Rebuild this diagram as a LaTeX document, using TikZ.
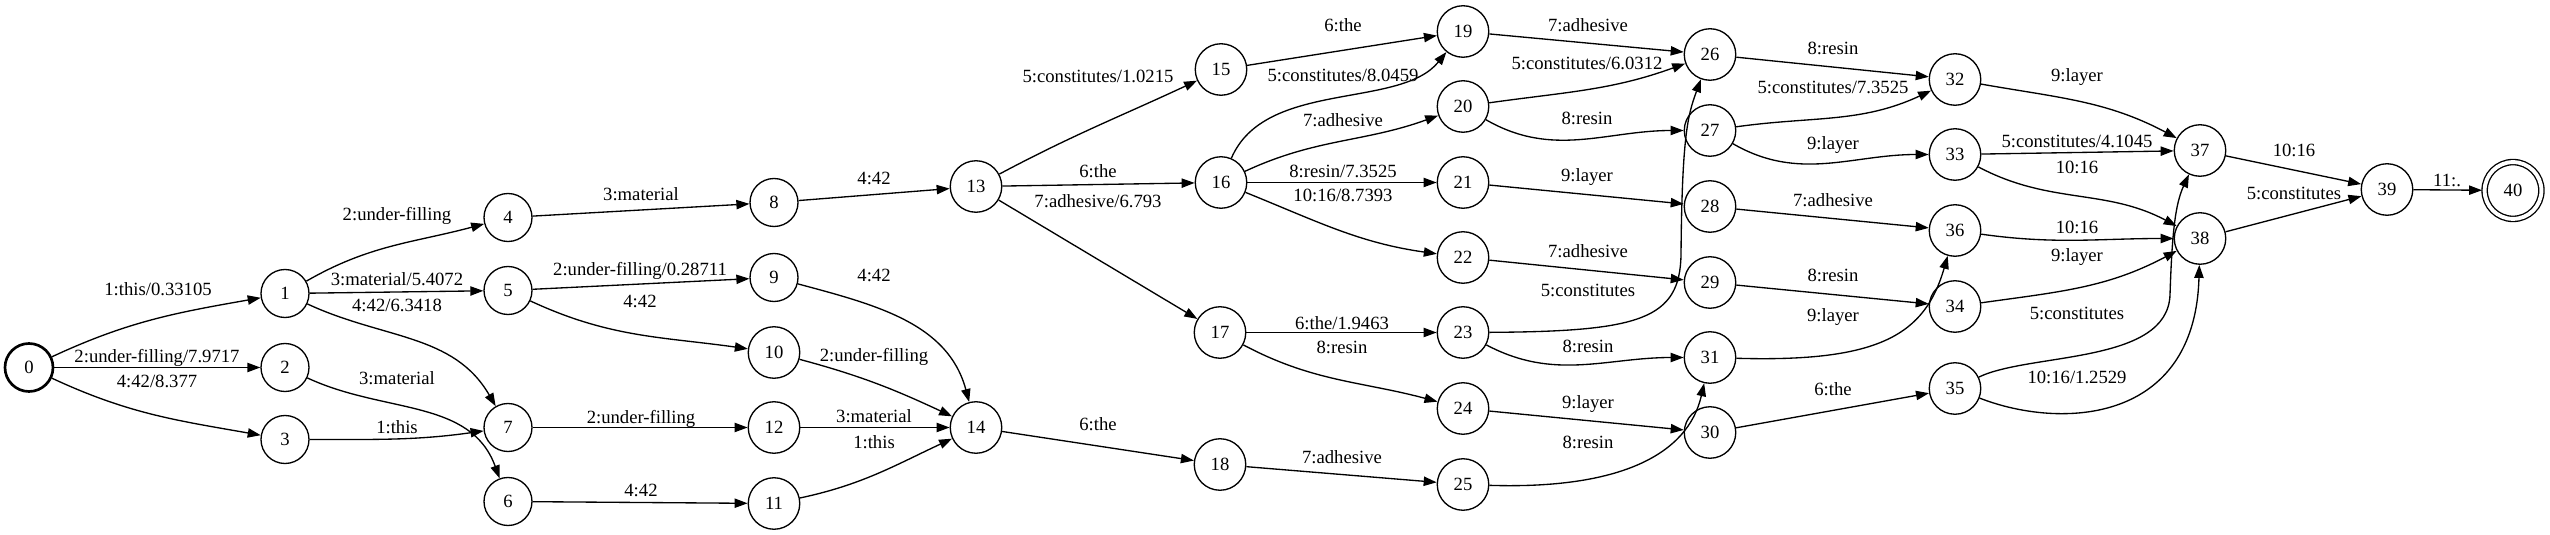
\documentclass[tikz,border=0pt]{standalone}
\usepackage{fontspec}
\setmainfont{Liberation Serif}
\usetikzlibrary{arrows.meta}
\begin{document}
\begin{tikzpicture}[x=1pt,y=1pt,
  st/.style={circle,draw,line width=1.33pt,minimum size=48pt,inner sep=0pt,font=\fontsize{18.67}{20}\selectfont},
  stt/.style={st,minimum size=51.5pt},
  stinit/.style={st,line width=2.67pt},
  stfinal/.style={st,minimum size=56.8pt,double,double distance=3.9pt,outer sep=2.6pt},
  e/.style={line width=1.33pt,-{Triangle[length=13pt,width=9.3pt]}},
  lb/.style={inner sep=0pt,font=\fontsize{18.67}{20}\selectfont,text height=10pt,text depth=0pt}
]
\fill[white] (0,0) rectangle (2550,535);
\useasboundingbox (0,0) rectangle (2550,535);
\begin{scope}[yshift=0.5pt]
% states
\node[stinit] (n0) at (29,167) {0};
\node[st] (n1) at (285,241) {1};
\node[st] (n2) at (285,167) {2};
\node[st] (n3) at (285,95) {3};
\node[st] (n4) at (508,317) {4};
\node[st] (n5) at (508,244) {5};
\node[st] (n6) at (508,33) {6};
\node[st] (n7) at (508,107) {7};
\node[st] (n8) at (774,332) {8};
\node[st] (n9) at (774,257) {9};
\node[stt] (n10) at (774,182) {10};
\node[stt] (n11) at (774,31) {11};
\node[stt] (n12) at (774,107) {12};
\node[stt] (n13) at (976,348) {13};
\node[stt] (n14) at (976,107) {14};
\node[stt] (n15) at (1221,465) {15};
\node[stt] (n16) at (1221,352) {16};
\node[stt] (n17) at (1220,202) {17};
\node[stt] (n18) at (1220,70) {18};
\node[stt] (n19) at (1463,503) {19};
\node[stt] (n20) at (1463,428) {20};
\node[stt] (n21) at (1463,352) {21};
\node[stt] (n22) at (1463,277) {22};
\node[stt] (n23) at (1463,202) {23};
\node[stt] (n24) at (1463,126) {24};
\node[stt] (n25) at (1463,50) {25};
\node[stt] (n26) at (1710,480) {26};
\node[stt] (n27) at (1710,404) {27};
\node[stt] (n28) at (1710,328) {28};
\node[stt] (n29) at (1710,252) {29};
\node[stt] (n30) at (1710,102) {30};
\node[stt] (n31) at (1710,177) {31};
\node[stt] (n32) at (1955,455) {32};
\node[stt] (n33) at (1955,380) {33};
\node[stt] (n34) at (1955,228) {34};
\node[stt] (n35) at (1955,146) {35};
\node[stt] (n36) at (1955,304) {36};
\node[stt] (n37) at (2200,384) {37};
\node[stt] (n38) at (2200,296) {38};
\node[stt] (n39) at (2387,345) {39};
\node[stfinal] (n40) at (2513,344) {40};
% arcs
\draw[e] (n0) to[out=25,in=190] (n1);
\draw[e] (n0) -- (n2);
\draw[e] (n0) to[out=-25,in=170] (n3);
\draw[e] (n1) to[out=30,in=195] (n4);
\draw[e] (n1) -- (n5);
\draw[e] (n1) to[out=-25,in=120] (n7);
\draw[e] (n2) to[out=-25,in=110] (n6);
\draw[e] (n3) to[out=0,in=188] (n7);
\draw[e] (n4) -- (n8);
\draw[e] (n5) -- (n9);
\draw[e] (n5) to[out=-25,in=172] (n10);
\draw[e] (n6) -- (n11);
\draw[e] (n7) -- (n12);
\draw[e] (n8) -- (n13);
\draw[e] (n9) to[out=-15,in=105] (n14);
\draw[e] (n10) to[out=-15,in=155] (n14);
\draw[e] (n11) to[out=12,in=205] (n14);
\draw[e] (n12) -- (n14);
\draw[e] (n13) to[out=28,in=205] (n15);
\draw[e] (n13) -- (n16);
\draw[e] (n13) -- (n17);
\draw[e] (n14) -- (n18);
\draw[e] (n15) -- (n19);
\draw[e] (n16) .. controls (1265,455) and (1400,425) .. (n19);
\draw[e] (n16) to[out=25,in=200] (n20);
\draw[e] (n16) -- (n21);
\draw[e] (n16) to[out=-22,in=172] (n22);
\draw[e] (n17) -- (n23);
\draw[e] (n17) to[out=-28,in=165] (n24);
\draw[e] (n18) -- (n25);
\draw[e] (n19) -- (n26);
\draw[e] (n20) to[out=8,in=200] (n26);
\draw[e] (n20) to[out=-30,in=180] (n27);
\draw[e] (n21) -- (n28);
\draw[e] (n22) -- (n29);
\draw[e] (n23) .. controls (1640,203) and (1680,215) .. (1681,280) .. controls (1682,400) and (1688,420) .. (n26);
\draw[e] (n23) to[out=-28,in=180] (n31);
\draw[e] (n24) -- (n30);
\draw[e] (n25) .. controls (1620,45) and (1688,80) .. (n31);
\draw[e] (n26) -- (n32);
\draw[e] (n27) to[out=8,in=205] (n32);
\draw[e] (n27) to[out=-30,in=180] (n33);
\draw[e] (n28) -- (n36);
\draw[e] (n29) -- (n34);
\draw[e] (n30) -- (n35);
\draw[e] (n31) .. controls (1880,172) and (1925,200) .. (n36);
\draw[e] (n32) to[out=-10,in=152] (n37);
\draw[e] (n33) -- (n37);
\draw[e] (n33) to[out=-28,in=152] (n38);
\draw[e] (n34) to[out=8,in=208] (n38);
\draw[e] (n35) .. controls (2030,182) and (2168,170) .. (2170,240) .. controls (2172,300) and (2175,330) .. (n37);
\draw[e] (n35) .. controls (2060,105) and (2195,110) .. (n38);
\draw[e] (n36) to[out=-8,in=180] (n38);
\draw[e] (n37) -- (n39);
\draw[e] (n38) -- (n39);
\draw[e] (n39) -- (n40);
% labels
\node[lb] (l0x1) at (158,244) {1:this/0.33105};
\node[lb] (l0x2) at (157,177) {2:under-filling/7.9717};
\node[lb] (l0x3) at (157,152) {4:42/8.377};
\node[lb] (l1x4) at (397,319) {2:under-filling};
\node[lb] (l1x5) at (397,254) {3:material/5.4072};
\node[lb] (l1x7) at (397,228) {4:42/6.3418};
\node[lb] (l2x6) at (397,155) {3:material};
\node[lb] (l3x7) at (397,106) {1:this};
\node[lb] (l4x8) at (641,339) {3:material};
\node[lb] (l8x13) at (874,355) {4:42};
\node[lb] (l5x9) at (640,264) {2:under-filling/0.28711};
\node[lb] (l5x10) at (640,232) {4:42};
\node[lb] (l9x14) at (874,258) {4:42};
\node[lb] (l10x14) at (874,178) {2:under-filling};
\node[lb] (l7x12) at (641,116) {2:under-filling};
\node[lb] (l12x14) at (874,117) {3:material};
\node[lb] (l11x14) at (874,91) {1:this};
\node[lb] (l6x11) at (641,43) {4:42};
\node[lb] (l13x15) at (1098,457) {5:constitutes/1.0215};
\node[lb] (l13x16) at (1098,362) {6:the};
\node[lb] (l13x17) at (1098,332) {7:adhesive/6.793};
\node[lb] (l14x18) at (1098,109) {6:the};
\node[lb] (l15x19) at (1343,508) {6:the};
\node[lb] (l16x19) at (1343,458) {5:constitutes/8.0459};
\node[lb] (l16x20) at (1343,413) {7:adhesive};
\node[lb] (l16x21) at (1343,362) {8:resin/7.3525};
\node[lb] (l16x22) at (1343,338) {10:16/8.7393};
\node[lb] (l17x23) at (1342,210) {6:the/1.9463};
\node[lb] (l17x24) at (1342,186) {8:resin};
\node[lb] (l18x25) at (1342,76) {7:adhesive};
\node[lb] (l19x26) at (1588,508) {7:adhesive};
\node[lb] (l20x26) at (1587,470) {5:constitutes/6.0312};
\node[lb] (l20x27) at (1587,415) {8:resin};
\node[lb] (l21x28) at (1587,358) {9:layer};
\node[lb] (l22x29) at (1588,282) {7:adhesive};
\node[lb] (l23x26) at (1588,243) {5:constitutes};
\node[lb] (l23x31) at (1588,187) {8:resin};
\node[lb] (l24x30) at (1588,131) {9:layer};
\node[lb] (l25x31) at (1588,91) {8:resin};
\node[lb] (l26x32) at (1833,485) {8:resin};
\node[lb] (l27x32) at (1833,446) {5:constitutes/7.3525};
\node[lb] (l27x33) at (1833,390) {9:layer};
\node[lb] (l28x36) at (1833,333) {7:adhesive};
\node[lb] (l29x34) at (1833,258) {8:resin};
\node[lb] (l31x36) at (1833,218) {9:layer};
\node[lb] (l30x35) at (1833,144) {6:the};
\node[lb] (l32x37) at (2077,458) {9:layer};
\node[lb] (l33x37) at (2077,392) {5:constitutes/4.1045};
\node[lb] (l33x38) at (2077,366) {10:16};
\node[lb] (l36x38) at (2077,306) {10:16};
\node[lb] (l34x38) at (2077,278) {9:layer};
\node[lb] (l35x37) at (2077,220) {5:constitutes};
\node[lb] (l35x38) at (2077,156) {10:16/1.2529};
\node[lb] (l37x39) at (2294,383) {10:16};
\node[lb] (l38x39) at (2294,340) {5:constitutes};
\node[lb] (l39x40) at (2447,353) {11:.};
\end{scope}
\end{tikzpicture}
\end{document}
